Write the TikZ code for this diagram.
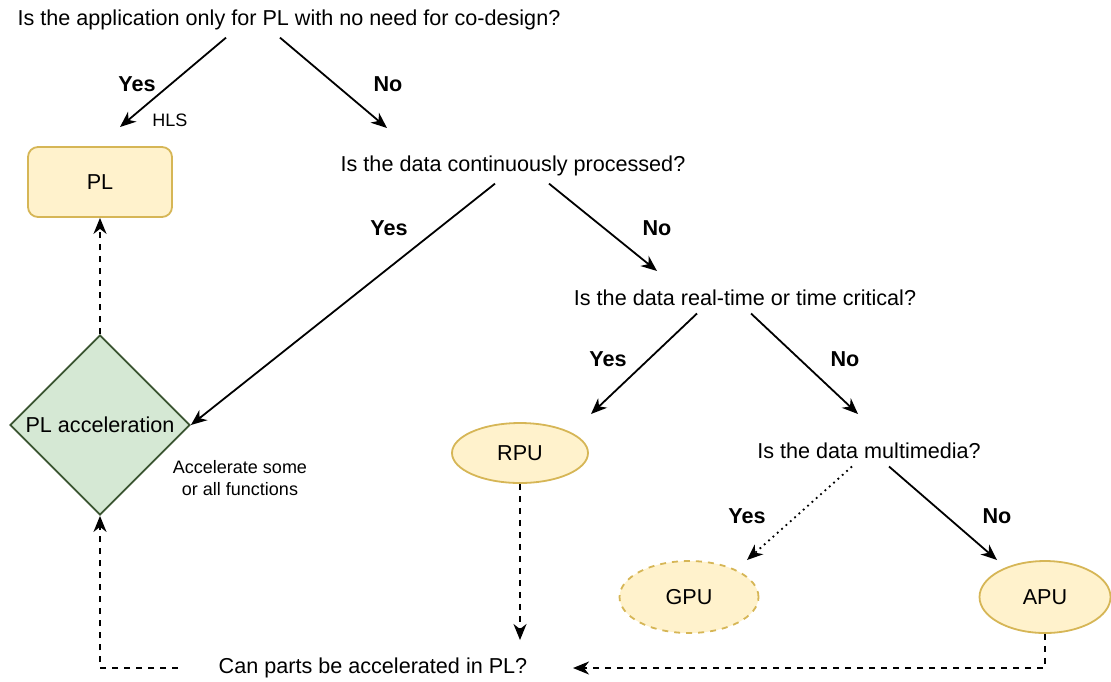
\documentclass[tikz,border=0pt]{standalone}
\usepackage{fontspec}
\setmainfont{Liberation Sans}
\usetikzlibrary{arrows.meta,shapes.geometric}

\definecolor{cream}{HTML}{FFF2CC}
\definecolor{gold}{HTML}{D6B656}
\definecolor{mint}{HTML}{D5E8D4}
\definecolor{moss}{HTML}{3A5431}

\begin{document}
\begin{tikzpicture}[x=0.5pt,y=-0.5pt,->,>={Stealth[length=8pt,width=6.5pt,inset=2.5pt]},
                    line width=0.9pt,
                    question node/.style={font=\fontsize{10.8}{13}\selectfont},
                    answer/.style={font=\fontsize{10.8}{13}\selectfont\bfseries},
                    note/.style={font=\fontsize{9}{11}\selectfont,align=center},
                    unit node/.style={ellipse,draw=gold,fill=cream,minimum width=68pt,
                                      minimum height=30pt,font=\fontsize{10.8}{13}\selectfont}]
  \useasboundingbox (0,0) rectangle (1111,681);

  % questions
  \node[question node] (q1) at (289,20) {Is the application only for PL with no need for co-design?};
  \node[question node] (q2) at (513,166) {Is the data continuously processed?};
  \node[question node] (q3) at (745,298) {Is the data real-time or time critical?};
  \node[question node] (q4) at (869,451) {Is the data multimedia?};
  \node[question node] (q5) at (373,668) {Can parts be accelerated in PL?};

  % outcomes
  \node[draw=gold,fill=cream,rounded corners=5pt,minimum width=72pt,minimum height=35pt,
        font=\fontsize{10.8}{13}\selectfont] (pl) at (100,182) {PL};
  \node[diamond,draw=moss,fill=mint,inner sep=0pt,minimum size=90pt,
        font=\fontsize{10.8}{13}\selectfont] (acc) at (100,425) {PL acceleration};
  \node[unit node] (rpu) at (520,453) {RPU};
  \node[unit node,dashed,minimum width=69.5pt,minimum height=36pt] (gpu) at (689,597) {GPU};
  \node[unit node,minimum width=65.5pt,minimum height=36pt] (apu) at (1045,597) {APU};

  \coordinate (plin) at (120,127);
  \coordinate (q2in) at (387,128);
  \coordinate (q3in) at (657,271);
  \coordinate (rpuin) at (591,414);
  \coordinate (q4in) at (858,414);
  \coordinate (gpuin) at (747,560);
  \coordinate (apuin) at (997,560);
  \coordinate (q5in) at (520,640);
  \coordinate (q5out) at (178,668);
  \coordinate (q5back) at (573,668);

  \draw ([xshift=-31.5pt]q1.south) -- (plin);
  \draw ([xshift=-4.5pt]q1.south) -- (q2in);
  \draw ([xshift=-9pt]q2.south) -- (acc.east);
  \draw ([xshift=18pt]q2.south) -- (q3in);
  \draw ([xshift=-24pt]q3.south) -- (rpuin);
  \draw ([xshift=3pt]q3.south) -- (q4in);
  \draw[dotted] ([xshift=-8.5pt]q4.south) -- (gpuin);
  \draw ([xshift=10pt]q4.south) -- (apuin);

  \draw[dashed] (acc.north) -- (pl.south);
  \draw[dashed] (rpu.south) -- (q5in);
  \draw[dashed] (apu.south) |- (q5back);
  \draw[dashed] (q5out) -| (acc.south);

  % branch labels
  \node[answer] (y1) at (137,84) {Yes};
  \node[note] (hls) at (170,120) {HLS};
  \node[answer] (n1) at (388,84) {No};
  \node[answer] (y2) at (389,228) {Yes};
  \node[answer] (n2) at (657,228) {No};
  \node[answer] (y3) at (608,359) {Yes};
  \node[answer] (n3) at (845,359) {No};
  \node[answer] (y4) at (747,516) {Yes};
  \node[answer] (n4) at (997,516) {No};
  \node[note] (accnote) at (240,478) {Accelerate some\\ or all functions};
\end{tikzpicture}
\end{document}
